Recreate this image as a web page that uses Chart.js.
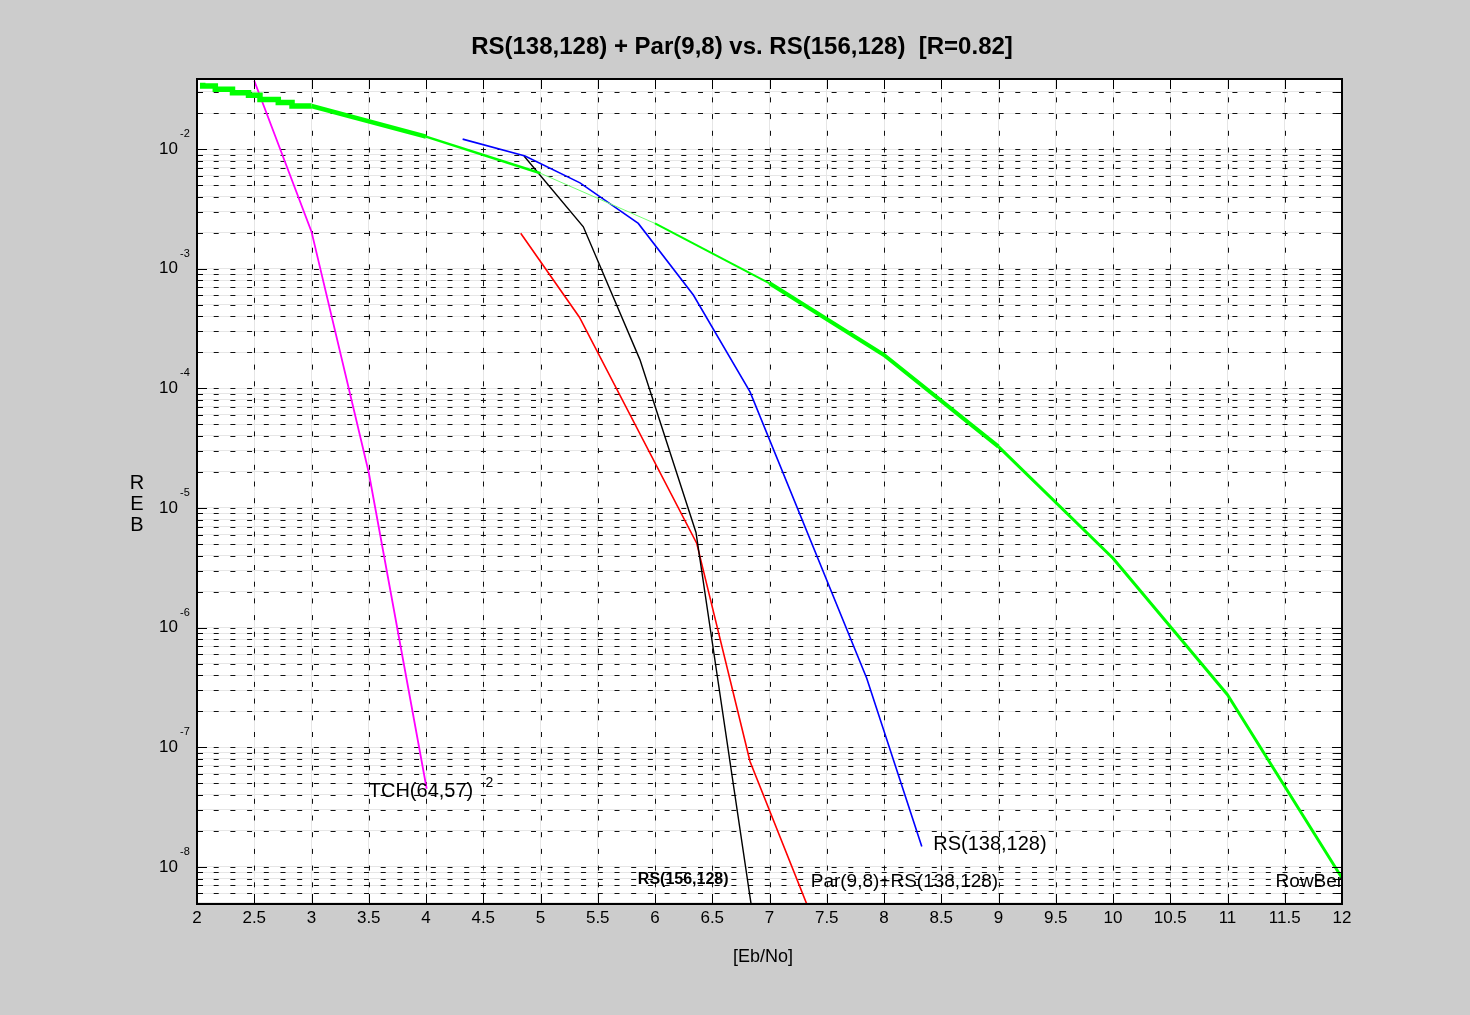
<!DOCTYPE html>
<html>
<head>
<meta charset="utf-8">
<title>RS(138,128) + Par(9,8) vs. RS(156,128)</title>
<script src="https://cdn.jsdelivr.net/npm/chart.js@4.4.1/dist/chart.umd.min.js"></script>
<style>
  html, body { margin: 0; padding: 0; background: #cccccc; }
  #wrap { width: 1470px; height: 1015px; }
</style>
</head>
<body>
<div id="wrap"><canvas id="berChart" width="1470" height="1015"></canvas></div>
<script>
// axis ticks
const xTicks = [2, 2.5, 3, 3.5, 4, 4.5, 5, 5.5, 6, 6.5, 7, 7.5, 8, 8.5, 9, 9.5, 10, 10.5, 11, 11.5, 12];
const yDecades = [-8, -7, -6, -5, -4, -3, -2];
const yMinorSteps = [1, 2, 3, 4, 5, 6, 7, 8, 9];

// RowBer (green) - staircase part at low Eb/No, then the main curve
const rowBerStairX = [2.05, 2.16, 2.31, 2.45, 2.55, 2.71, 2.83, 2.94, 3.0];
const rowBerStairY = [3.58e-2, 3.36e-2, 3.16e-2, 2.95e-2, 2.81e-2, 2.60e-2, 2.45e-2, 2.29e-2, 2.29e-2];
const rowBerX = [3, 4, 5, 6, 7, 8, 9, 10, 11, 12];
const rowBerY = [2.29e-2, 1.27e-2, 6.27e-3, 2.39e-3, 7.55e-4, 1.90e-4, 3.26e-5, 3.80e-6, 2.75e-7, 8.07e-9];

// RS(138,128) (blue)
const rs138X = [4.32, 4.865, 5.345, 5.854, 6.335, 6.83, 7.849, 8.33];
const rs138Y = [1.21e-2, 8.75e-3, 5.22e-3, 2.39e-3, 6.03e-4, 9.33e-5, 3.78e-7, 1.48e-8];

// RS(156,128) (black)
const rs156X = [4.856, 5.374, 5.869, 6.358, 6.85];
const rs156Y = [8.75e-3, 2.24e-3, 1.73e-4, 6.24e-6, 4.17e-9];

// Par(9,8)+RS(138,128) (red)
const parRsX = [4.827, 5.34, 6.364, 6.83, 7.35];
const parRsY = [1.98e-3, 3.93e-4, 5.08e-6, 7.60e-8, 4.27e-9];

// TCH(64,57)^2 (magenta)
const tchX = [2.5, 3.0, 3.5, 4.006];
const tchY = [3.72e-2, 2.04e-3, 1.98e-5, 4.50e-8];

// line widths of the green curve per segment (it is drawn thicker / thinner in places)
const rowBerWidths = [4.5, 2.5, 1, 2, 4, 4, 3, 3, 3];

const FONT = '"Liberation Sans", Arial, sans-serif';

function pts(xs, ys) {
    return xs.map((x, i) => ({ x: x, y: ys[i] }));
}

// text labels placed in data coordinates like matlab text()
const notes = [
    { text: 'TCH(64,57)', x: 3.50, y: 4.24e-8, font: '20px ' + FONT },
    { text: '2', x: 4.52, y: 5.0e-8, font: '14px ' + FONT },
    { text: 'RS(138,128)', x: 8.43, y: 1.53e-8, font: '20px ' + FONT },
    { text: 'RS(156,128)', x: 5.85, y: 7.8e-9, font: 'bold 16px ' + FONT },
    { text: 'Par(9,8)+RS(138,128)', x: 7.36, y: 7.5e-9, font: '19px ' + FONT },
    { text: 'RowBer', x: 11.42, y: 7.5e-9, font: '19px ' + FONT }
];

// matlab style frame: gray figure, dashed grid, inner ticks, labels
const matlabLook = {
    id: 'matlabLook',
    beforeDraw(chart) {
        const { ctx, width, height, chartArea: a } = chart;
        ctx.save();
        ctx.fillStyle = '#cccccc';
        ctx.fillRect(0, 0, width, height);
        ctx.fillStyle = '#ffffff';
        ctx.fillRect(a.left, a.top, a.right - a.left, a.bottom - a.top);
        ctx.restore();
    },
    beforeDatasetsDraw(chart) {
        const { ctx, chartArea: a, scales: { x, y } } = chart;
        ctx.save();
        ctx.strokeStyle = '#111';
        ctx.lineWidth = 1;
        ctx.setLineDash([5, 11.7]);
        x.ticks.forEach(t => {
            const px = Math.round(x.getPixelForValue(t.value)) + 0.5;
            if (px <= a.left + 2 || px >= a.right - 2) return;
            ctx.beginPath();
            ctx.moveTo(px, a.bottom);
            ctx.lineTo(px, a.top);
            ctx.stroke();
        });
        y.ticks.forEach(t => {
            const py = Math.round(y.getPixelForValue(t.value)) + 0.5;
            if (py <= a.top + 2 || py >= a.bottom - 2) return;
            ctx.beginPath();
            ctx.moveTo(a.left, py);
            ctx.lineTo(a.right, py);
            ctx.stroke();
        });
        ctx.restore();
    },
    afterDatasetsDraw(chart) {
        const { ctx, chartArea: a, scales: { x, y } } = chart;
        ctx.save();
        ctx.strokeStyle = '#000';
        ctx.lineWidth = 1;
        // inner tick marks
        ctx.beginPath();
        x.ticks.forEach(t => {
            const px = Math.round(x.getPixelForValue(t.value)) + 0.5;
            ctx.moveTo(px, a.bottom); ctx.lineTo(px, a.bottom - 10);
            ctx.moveTo(px, a.top); ctx.lineTo(px, a.top + 10);
        });
        y.ticks.forEach(t => {
            const py = Math.round(y.getPixelForValue(t.value)) + 0.5;
            const len = t.major ? 10 : 6;
            ctx.moveTo(a.left, py); ctx.lineTo(a.left + len, py);
            ctx.moveTo(a.right, py); ctx.lineTo(a.right - len, py);
        });
        ctx.stroke();
        // box
        ctx.lineWidth = 2;
        ctx.strokeRect(a.left, a.top, a.right - a.left, a.bottom - a.top);

        // annotations
        ctx.fillStyle = '#000';
        ctx.textAlign = 'left';
        ctx.textBaseline = 'middle';
        notes.forEach(n => {
            ctx.font = n.font;
            ctx.fillText(n.text, x.getPixelForValue(n.x), y.getPixelForValue(n.y));
        });

        // y tick labels 10^n
        yDecades.forEach(d => {
            const py = y.getPixelForValue(Math.pow(10, d));
            ctx.font = '17px ' + FONT;
            ctx.textAlign = 'right';
            ctx.textBaseline = 'middle';
            ctx.fillText('10', 178, py);
            ctx.font = '11px ' + FONT;
            ctx.textAlign = 'left';
            ctx.textBaseline = 'alphabetic';
            ctx.fillText('-' + Math.abs(d), 180, py - 12);
        });

        // title and axis labels
        ctx.textAlign = 'center';
        ctx.textBaseline = 'middle';
        ctx.font = 'bold 24px ' + FONT;
        ctx.fillText('RS(138,128) + Par(9,8) vs. RS(156,128)  [R=0.82]', 742, 47);
        ctx.font = '18px ' + FONT;
        ctx.fillText('[Eb/No]', 763, 957);
        ctx.font = '20px ' + FONT;
        ['R', 'E', 'B'].forEach((c, i) => ctx.fillText(c, 137, 483 + i * 21));
        ctx.restore();
    }
};

const ctx = document.getElementById('berChart').getContext('2d');
const berChart = new Chart(ctx, {
    type: 'line',
    data: {
        datasets: [
            {
                label: 'RowBer steps',
                data: pts(rowBerStairX, rowBerStairY),
                borderColor: '#00ff00',
                borderWidth: 5.5,
                stepped: 'after',
                pointRadius: 0,
                clip: 0
            },
            {
                label: 'RowBer',
                data: pts(rowBerX, rowBerY),
                borderColor: '#00ff00',
                borderWidth: 3,
                borderJoinStyle: 'round',
                pointRadius: 0,
                clip: 0,
                segment: {
                    borderWidth: c => rowBerWidths[c.p0DataIndex],
                    borderColor: c => rowBerWidths[c.p0DataIndex] < 1.5 ? '#70ff70' : '#00ff00'
                }
            },
            {
                label: 'RS(138,128)',
                data: pts(rs138X, rs138Y),
                borderColor: '#0000ff',
                borderWidth: 1.6,
                pointRadius: 0,
                clip: 0
            },
            {
                label: 'RS(156,128)',
                data: pts(rs156X, rs156Y),
                borderColor: '#000000',
                borderWidth: 1.4,
                pointRadius: 0,
                clip: 0
            },
            {
                label: 'Par(9,8)+RS(138,128)',
                data: pts(parRsX, parRsY),
                borderColor: '#ff0000',
                borderWidth: 1.6,
                pointRadius: 0,
                clip: 0
            },
            {
                label: 'TCH(64,57)^2',
                data: pts(tchX, tchY),
                borderColor: '#ff00ff',
                borderWidth: 1.8,
                pointRadius: 0,
                clip: 0
            }
        ]
    },
    options: {
        responsive: false,
        animation: false,
        devicePixelRatio: 1,
        layout: {
            padding: { left: 0, right: 128, top: 79, bottom: 0 }
        },
        plugins: {
            legend: { display: false },
            tooltip: { enabled: false },
            title: { display: false }
        },
        scales: {
            x: {
                type: 'linear',
                min: 2,
                max: 12,
                afterBuildTicks: s => { s.ticks = xTicks.map(v => ({ value: v })); },
                afterFit: s => { s.height = 111; },
                ticks: {
                    autoSkip: false,
                    maxRotation: 0,
                    padding: 4,
                    color: '#000',
                    font: { family: FONT, size: 17 },
                    callback: v => String(v)
                },
                grid: { color: '#e6e6e6', lineWidth: 1, drawTicks: false },
                border: { display: false }
            },
            y: {
                type: 'logarithmic',
                min: 4.9e-9,
                max: 3.85e-2,
                afterBuildTicks: s => {
                    const ticks = [];
                    for (let d = yDecades[0] - 1; d <= yDecades[yDecades.length - 1]; d++) {
                        yMinorSteps.forEach(m => {
                            const v = m * Math.pow(10, d);
                            if (v >= s.min && v <= s.max) ticks.push({ value: v, major: m === 1 });
                        });
                    }
                    s.ticks = ticks;
                },
                afterFit: s => { s.width = 197; },
                ticks: { display: false },
                grid: { color: '#e6e6e6', lineWidth: 1, drawTicks: false },
                border: { display: false }
            }
        }
    },
    plugins: [matlabLook]
});
</script>
</body>
</html>
